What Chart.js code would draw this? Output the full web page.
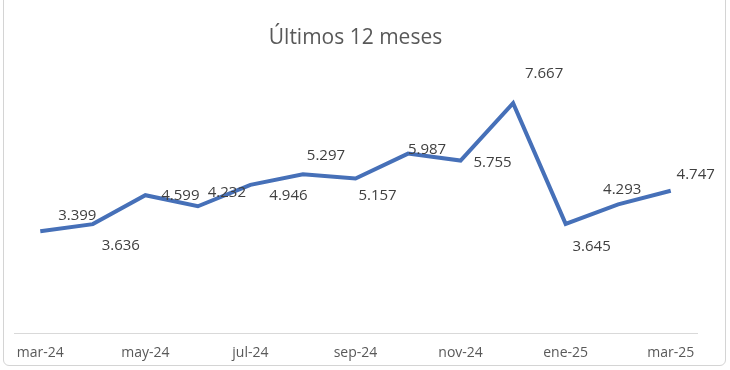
<!DOCTYPE html>
<html>
<head>
<meta charset="utf-8">
<script src="https://cdn.jsdelivr.net/npm/chart.js@4.4.1/dist/chart.umd.min.js"></script>
<style>
html,body{margin:0;padding:0;background:#fff;}
#wrap{position:relative;width:730px;height:370px;overflow:hidden;}
#frame{position:absolute;left:3px;top:-10px;width:723px;height:376px;border:1px solid #d4d4d4;border-radius:6px;box-sizing:border-box;}
canvas{position:absolute;left:0;top:0;}
</style>
</head>
<body>
<div id="wrap">
<div id="frame"></div>
<canvas id="chart" width="730" height="373"></canvas>
</div>
<script>
// datos
const meses = ['mar-24','abr-24','may-24','jun-24','jul-24','ago-24','sep-24','oct-24','nov-24','dic-24','ene-25','feb-25','mar-25'];
const valores = [3.399,3.636,4.599,4.232,4.946,5.297,5.157,5.987,5.755,7.667,3.645,4.293,4.747];

// posicion de cada etiqueta respecto a su punto (como en el original)
const etiquetaOffset = [[37,-15],[28,22],[35,1],[29,-14],[38,11],[23,-19],[22,17],[19,-4],[32,2],[31,-29],[26,23],[4,-15],[25,-16]];

const fuente = "'Open Sans', sans-serif";

const etiquetas = {
id:'etiquetas',
afterDatasetsDraw(chart){
const ctx = chart.ctx;
const meta = chart.getDatasetMeta(0);
ctx.save();
ctx.font = "15px " + fuente;
ctx.fillStyle = '#404040';
ctx.textAlign = 'center';
ctx.textBaseline = 'middle';
meta.data.forEach((pt,i)=>{
const off = etiquetaOffset[i];
ctx.fillText(valores[i].toFixed(3), pt.x + off[0], pt.y + off[1]);
});
ctx.restore();
}
};

new Chart(document.getElementById('chart'),{
type:'line',
data:{
labels:meses,
datasets:[{
data:valores,
borderColor:'#4670b8',
borderWidth:4,
pointRadius:0,
tension:0,
fill:false
}]
},
options:{
responsive:false,
animation:false,
layout:{padding:{left:14,right:33,top:0,bottom:9}},
plugins:{
legend:{display:false},
tooltip:{enabled:false},
title:{
display:true,
text:'Últimos 12 meses',
color:'#595959',
font:{family:fuente,size:21,weight:'normal'},
padding:{top:25,bottom:13}
}
},
scales:{
x:{
offset:true,
grid:{display:false},
border:{display:true,color:'#d9d9d9',width:1},
ticks:{
autoSkip:false,
maxRotation:0,
padding:3,
color:'#595959',
font:{family:fuente,size:14},
callback:function(v,i){ return i%2===0 ? meses[i] : ''; }
}
},
y:{
display:false,
min:0,
max:9
}
}
},
plugins:[etiquetas]
});
</script>
</body>
</html>
